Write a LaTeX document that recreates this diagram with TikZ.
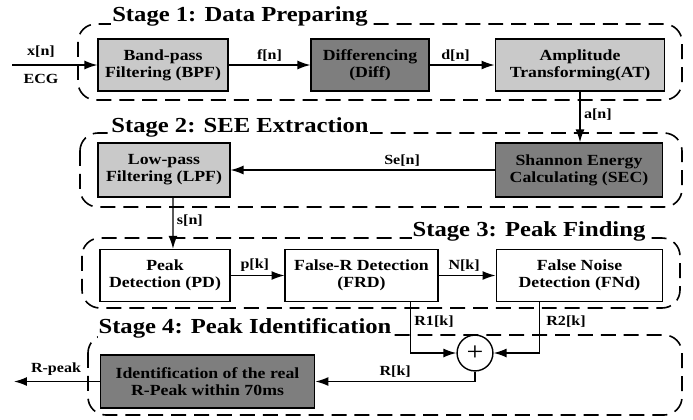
\documentclass[tikz,border=0pt]{standalone}
\usepackage{fontspec}
\setmainfont{Liberation Serif}[FakeStretch=1.15]
\usetikzlibrary{arrows.meta}

\definecolor{lightfill}{RGB}{201,201,201}
\definecolor{darkfill}{RGB}{126,126,126}

\tikzset{
  block/.style={draw, line width=1.6pt, minimum height=52, inner sep=2pt,
    align=center, font=\bfseries\fontsize{15.5}{17}\selectfont},
  lightblock/.style={block, fill=lightfill},
  darkblock/.style={block, fill=darkfill},
  stagebox/.style={line width=1.6pt, dash pattern=on 15pt off 8pt, rounded corners=18},
  stagetitle/.style={fill=white, inner sep=1pt, font=\bfseries\fontsize{21.5}{24}\selectfont},
  sig/.style={font=\bfseries\fontsize{14}{15}\selectfont},
  flow/.style={-{Latex[length=13pt,width=9pt]}, line width=1.4pt},
}

\begin{document}
\begin{tikzpicture}[x=1bp,y=-1bp]
    \useasboundingbox (0,0) rectangle (693,419);

    % Stage frames
    \draw[stagebox] (78,24) rectangle (682,100);
    \draw[stagebox] (80,133) rectangle (682,207);
    \draw[stagebox] (82,238) rectangle (680,308);
    \draw[stagebox] (88,335) rectangle (682,415);

    \node[stagetitle] (t1) at (240,16) {Stage 1: Data Preparing};
    \node[stagetitle] (t2) at (240,127) {Stage 2: SEE Extraction};
    \node[stagetitle] (t3) at (529,231) {Stage 3: Peak Finding};
    \node[stagetitle] (t4) at (245,328) {Stage 4: Peak Identification};

    % Stage 1 blocks
    \node[lightblock, minimum width=130] (bpf) at (163,65) {Band-pass\\Filtering (BPF)};
    \node[darkblock, minimum width=118] (diff) at (370,65) {Differencing\\(Diff)};
    \node[lightblock, minimum width=170] (at) at (580,65) {Amplitude\\Transforming(AT)};

    % Stage 2 blocks
    \node[lightblock, minimum width=132, minimum height=54] (lpf) at (164,170) {Low-pass\\Filtering (LPF)};
    \node[darkblock, minimum width=168, minimum height=54] (sec) at (579,170) {Shannon Energy\\Calculating (SEC)};

    % Stage 3 blocks
    \node[block, fill=white, minimum width=130] (pd) at (165,275.5) {Peak\\Detection (PD)};
    \node[block, fill=white, minimum width=153] (frd) at (361.5,275.5) {False-R Detection\\(FRD)};
    \node[block, fill=white, minimum width=167] (fnd) at (579.5,275.5) {False Noise\\Detection (FNd)};

    % Stage 4 blocks
    \node[draw, circle, line width=1.4pt, minimum size=36, inner sep=0pt,
      font=\fontsize{26}{26}\selectfont] (sum) at (475,353) {+};
    \node[darkblock, minimum width=215, minimum height=53] (rid) at (207.5,381.5)
      {Identification of the real\\R-Peak within 70ms};

    % Signal flow
    \coordinate (ecg) at (12,65);
    \coordinate (out) at (14,381.5);
    \draw[flow] (ecg) -- (bpf);
    \node[sig] at (41,52) {x[n]};
    \node[sig] at (41,79) {ECG};

    \draw[flow] (bpf) -- node[sig, above] {f[n]} (diff);
    \draw[flow] (diff) -- node[sig, above, pos=0.4] {d[n]} (at);
    \draw[flow] (at.south) -- node[sig, right, pos=0.45] {a[n]} (at.south |- sec.north);
    \draw[flow] (sec) -- node[sig, above, pos=0.35] {Se[n]} (lpf);
    \draw[flow] ([xshift=9]lpf.south) -- node[sig, right, pos=0.45] {s[n]} ([xshift=8]pd.north);
    \draw[flow] (pd) -- node[sig, above, pos=0.45] {p[k]} (frd);
    \draw[flow] (frd) -- node[sig, above, pos=0.45] {N[k]} (fnd);

    \draw[flow] ([xshift=-28]frd.south east) |- (sum.west);
    \draw[flow] ([xshift=44]fnd.south west) |- (sum.east);
    \node[sig] at (434,322) {R1[k]};
    \node[sig] at (566,322) {R2[k]};

    \draw[flow] (sum.south) |- node[sig, above, pos=0.75] {R[k]} (rid.east);
    \draw[flow] (rid) -- (out);
    \node[sig] at (56,369) {R-peak};
\end{tikzpicture}
\end{document}
